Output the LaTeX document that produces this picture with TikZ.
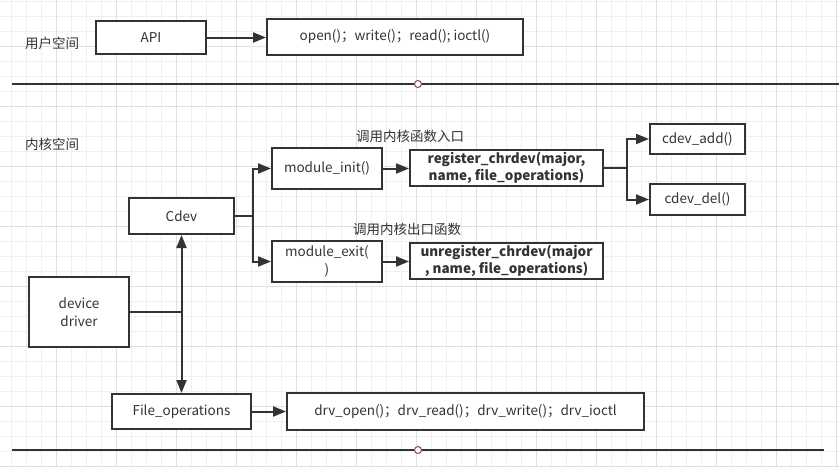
\documentclass[tikz,border=0pt]{standalone}
\usepackage{fontspec}
\setmainfont{Noto Sans CJK SC}
\usetikzlibrary{arrows.meta}
\definecolor{ink}{HTML}{333333}
\definecolor{gridminor}{HTML}{EFEFEF}
\definecolor{gridmajor}{HTML}{E0E0E0}
\definecolor{knob}{HTML}{8E4A4A}
\tikzset{
  txt/.style={text=ink, font=\fontsize{13.5}{18}\selectfont},
  box/.style={txt, draw=ink, line width=2pt, fill=white, inner sep=0pt, align=center},
  boldbox/.style={box, font=\fontsize{13.5}{17}\selectfont\bfseries},
  link/.style={draw=ink, line width=2pt},
  arr/.style={link, -{Triangle[length=13pt,width=10pt]}},
  biarr/.style={link, {Triangle[length=13pt,width=10pt]}-{Triangle[length=13pt,width=10pt]}},
  knobc/.style={circle, draw=knob, fill=white, line width=1pt, minimum size=7pt, inner sep=0pt},
}
\begin{document}
\begin{tikzpicture}[x=1pt, y=-1pt]
% canvas and background grid
\fill[white] (0,0) rectangle (839,467);
\useasboundingbox (0,0) rectangle (839,467);
\foreach \gx in {11,26,...,836} \draw[gridminor, line width=1pt] (\gx,0) -- (\gx,467);
\foreach \gy in {1,16,...,466} \draw[gridminor, line width=1pt] (0,\gy) -- (839,\gy);
\foreach \gx in {56,116,...,836} \draw[gridmajor, line width=1pt] (\gx,0) -- (\gx,467);
\foreach \gy in {46,106,...,466} \draw[gridmajor, line width=1pt] (0,\gy) -- (839,\gy);

% user space
\node[txt] (user) at (52,43) {用户空间};
\node[box, minimum width=110pt, minimum height=33pt] (api) at (151,37.5) {API};
\node[box, minimum width=256pt, minimum height=36pt] (open) at (395,37) {open()；write()；read(); ioctl()};
\draw[arr] (api.east) -- (api.east -| open.west);

% separator between user and kernel space
\coordinate (s1a) at (12,84);
\coordinate (s1b) at (839,84);
\draw[link] (s1a) -- (s1b);
\node[knobc] (k1) at (418,84) {};

% kernel space
\node[txt] (kernel) at (52,144) {内核空间};
\node[box, minimum width=105pt, minimum height=36pt] (cdev) at (181.5,216) {Cdev};
\node[box, minimum width=110pt, minimum height=41pt] (minit) at (327,168.5) {module\_init()};
\node[box, minimum width=110pt, minimum height=41pt] (mexit) at (327,261.5) {module\_exit(\\)};
\node[boldbox, minimum width=193pt, minimum height=36pt] (reg) at (506.5,168) {register\_chrdev(major,\\name, file\_operations)};
\node[boldbox, minimum width=193pt, minimum height=36pt] (unreg) at (506.5,261) {unregister\_chrdev(major\\, name, file\_operations)};
\node[box, minimum width=95pt, minimum height=30pt] (cadd) at (697.5,139) {cdev\_add()};
\node[box, minimum width=95pt, minimum height=31pt] (cdel) at (697.5,199.5) {cdev\_del()};
\node[txt] (lin) at (410,136) {调用内核函数入口};
\node[txt] (lout) at (407,229) {调用内核出口函数};
\node[box, minimum width=100pt, minimum height=70pt] (dd) at (79,312) {device\\driver};
\node[box, minimum width=139pt, minimum height=35pt] (fops) at (181.5,411.5) {File\_operations};
\node[box, minimum width=357pt, minimum height=37pt] (drv) at (465.5,411.5) {drv\_open()；drv\_read()；drv\_write()；drv\_ioctl};

% connectors
\coordinate (b1) at (253,216);
\draw[link] (cdev.east) -- (b1);
\draw[arr] (b1) |- (minit.west);
\draw[arr] (b1) |- (mexit.west);
\draw[arr] (minit.east) -- (minit.east -| reg.west);
\draw[arr] (mexit.east) -- (mexit.east -| unreg.west);
\coordinate (b2) at (627,168);
\draw[link] (reg.east) -- (b2);
\draw[arr] (b2) |- (cadd.west);
\draw[arr] (b2) |- (cdel.west);
\draw[biarr] (cdev.south) -- (fops.north);
\draw[link] (dd.east) -- (dd.east -| cdev.south);
\draw[arr] (fops.east) -- (fops.east -| drv.west);

% lower boundary
\coordinate (s2a) at (12,450);
\coordinate (s2b) at (824,450);
\draw[link] (s2a) -- (s2b);
\node[knobc] (k2) at (418,450) {};
\end{tikzpicture}
\end{document}
